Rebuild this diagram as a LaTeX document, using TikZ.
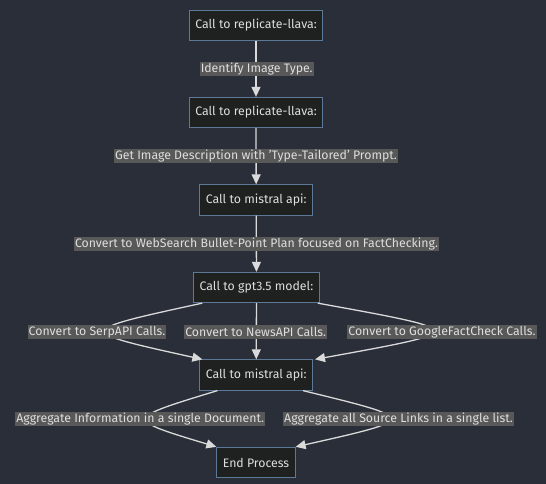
\documentclass[tikz,border=0pt]{standalone}
\usepackage{fontspec}
\setmainfont{Fira Sans}
\usepackage{tikz}
\usetikzlibrary{arrows.meta}
\definecolor{bgcol}{RGB}{42,46,57}
\definecolor{boxfill}{RGB}{31,32,32}
\definecolor{boxline}{RGB}{92,122,152}
\definecolor{lblfill}{RGB}{88,88,88}
\definecolor{txtcol}{RGB}{222,222,222}
\definecolor{flowcol}{RGB}{218,218,218}

\begin{document}
\begin{tikzpicture}[x=1pt,y=-1pt,
        font=\fontsize{12.3}{13}\selectfont]
        \fill[bgcol] (0,0) rectangle (546,484);
        \useasboundingbox (0,0) rectangle (546,484);
        \begin{scope}[
            every node/.style={shape=rectangle,draw=boxline,fill=boxfill,
                text=txtcol,minimum height=30.5pt,inner xsep=6pt,line width=0.8pt}
        ]
            \node (L1) at (256, 25.3) {Call to replicate-llava:};
            \node (L2) at (256, 112.5) {Call to replicate-llava:};
            \node (M1) at (256.2, 200) {Call to mistral api:};
            \node (G1) at (256.5, 287.5) {Call to gpt3.5 model:};
            \node (M2) at (256.2, 375) {Call to mistral api:};
            \node (E1) at (256, 462.5) {End Process};
        \end{scope}
        \begin{scope}[
            every edge/.style={draw=flowcol,line width=1.3pt},
            every path/.style={draw=flowcol,line width=1.3pt},
            >={Triangle[length=10pt,width=9pt]}
        ]
            \path [->] (L1) edge (L2);
            \path [->] (L2) edge (M1);
            \path [->] (M1) edge (G1);
            \path [->] (G1) edge (M2);

            \coordinate (S1) at (74, 331);
            \coordinate (S3) at (471.5, 331);
            \draw [->] ([xshift=9pt]G1.south west) .. controls (S1) .. ([xshift=3pt]M2.north west);
            \draw [->] ([xshift=-2pt]G1.south east) .. controls (S3) .. ([xshift=2pt]M2.north east);

            \coordinate (A1) at (124, 419);
            \coordinate (A2) at (419.5, 419);
            \draw [->] ([xshift=18pt]M2.south west) .. controls (A1) .. (E1.north west);
            \draw [->] ([xshift=-10pt]M2.south east) .. controls (A2) .. (E1.north east);
        \end{scope}
        \begin{scope}[
            every node/.style={fill=lblfill,text=txtcol,inner xsep=1pt,inner ysep=0.5pt,
                minimum height=14pt}
        ]
            \node (T1) at (256.7, 69) {Identify Image Type.};
            \node (T2) at (256, 156.3) {Get Image Description with 'Type-Tailored' Prompt.};
            \node (T3) at (256.5, 244.3) {Convert to WebSearch Bullet-Point Plan focused on FactChecking.};
            \node (T4) at (97, 331.7) {Convert to SerpAPI Calls.};
            \node (T5) at (255.7, 331.7) {Convert to NewsAPI Calls.};
            \node (T6) at (442, 331.7) {Convert to GoogleFactCheck Calls.};
            \node (T7) at (140.2, 418.7) {Aggregate Information in a single Document.};
            \node (T8) at (398.5, 418.7) {Aggregate all Source Links in a single list.};
        \end{scope}
    \end{tikzpicture}
\end{document}
